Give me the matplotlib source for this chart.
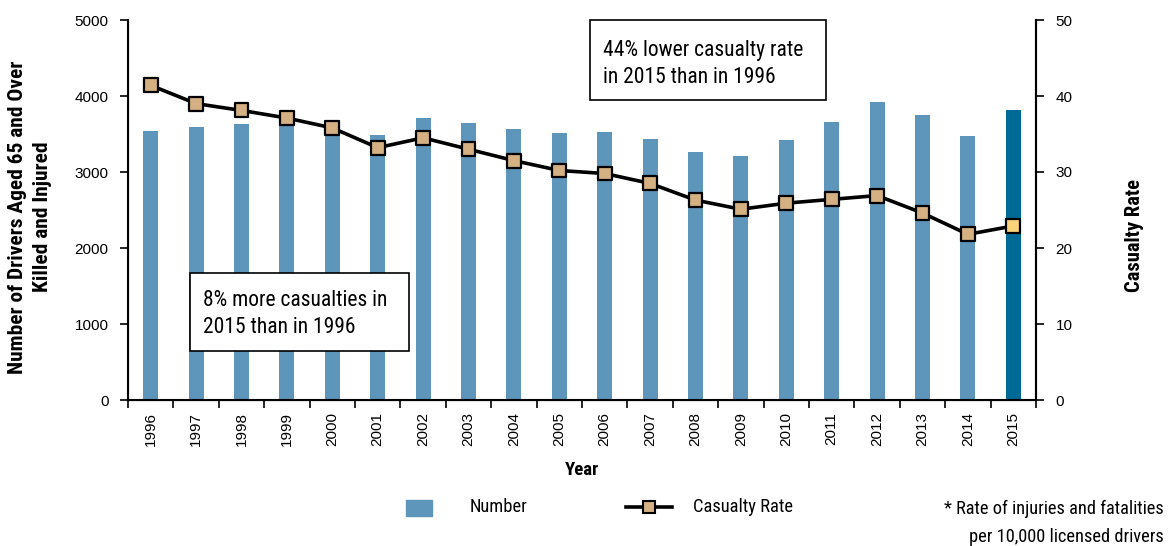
import matplotlib
matplotlib.use("Agg")
import matplotlib.pyplot as plt
from matplotlib.lines import Line2D
from matplotlib.patches import Rectangle
import numpy as np

years = [str(y) for y in range(1996, 2016)]
number = [3540, 3592, 3632, 3700, 3684, 3487, 3711, 3645, 3566, 3513,
          3526, 3434, 3263, 3211, 3421, 3658, 3921, 3750, 3474, 3816]
rate = [41.4, 39.0, 38.1, 37.1, 35.8, 33.2, 34.5, 33.0, 31.5, 30.2,
        29.8, 28.5, 26.3, 25.1, 25.9, 26.4, 26.9, 24.6, 21.8, 22.9]

BAR = "#5e95bb"
BAR_HI = "#006a96"
MK = "#d4b083"
MK_HI = "#f9d27a"

plt.rcParams['font.family'] = ['Liberation Sans', 'DejaVu Sans']
cond = ['Roboto Condensed', 'PT Sans Narrow', 'Liberation Sans', 'DejaVu Sans']

W, H = 1169, 546
def fx(px): return px / W
def fy(py): return 1 - py / H

fig = plt.figure(figsize=(W/100, H/100), dpi=100)
ax = fig.add_axes([fx(128), fy(400), (1036-128)/W, 380/H])
x = np.arange(len(years))
colors = [BAR]*(len(years)-1) + [BAR_HI]
ax.bar(x, number, width=0.33, color=colors, zorder=2)
ax.set_xlim(-0.5, len(years)-0.5)
ax.set_ylim(0, 5000)
ax.set_yticks([0, 1000, 2000, 3000, 4000, 5000])
ax.set_xticks(x)
ax.set_xticklabels(years, rotation=90, fontsize=11)
ax.set_xticks(np.arange(-0.5, len(years)), minor=True)
ax.tick_params(axis='x', which='major', length=0, pad=9)
ax.tick_params(axis='x', which='minor', length=6, width=1.2, direction='out')
ax.tick_params(axis='y', length=6, width=1.2, labelsize=11, pad=8)
ax.spines['top'].set_visible(False)
for s in ['left', 'right', 'bottom']:
    ax.spines[s].set_linewidth(1.5)

ax2 = ax.twinx()
ax2.set_ylim(0, 50)
ax2.set_yticks([0, 10, 20, 30, 40, 50])
ax2.tick_params(axis='y', length=6, width=1.2, labelsize=11, pad=8)
ax2.spines['top'].set_visible(False)
ax2.spines['right'].set_linewidth(1.5)
ax2.plot(x, rate, color='black', lw=2.6, zorder=3)
mcols = [MK]*(len(years)-1) + [MK_HI]
ax2.scatter(x, rate, marker='s', s=100, c=mcols, edgecolors='black', linewidths=1.6, zorder=4)

fig.text(fx(30), fy(217), "Number of Drivers Aged 65 and Over\nKilled and Injured",
         rotation=90, ha='center', va='center', fontsize=15.4, fontweight='bold',
         family=cond, linespacing=1.38)
fig.text(fx(1134), fy(235), "Casualty Rate", rotation=90, ha='center', va='center',
         fontsize=14.8, fontweight='bold', family=cond)
fig.text(fx(582), fy(470), "Year", ha='center', va='center', fontsize=13.5,
         fontweight='bold', family=cond)

# annotation boxes
fig.add_artist(Rectangle((fx(590), fy(100)), (826-590)/W, 80/H, transform=fig.transFigure,
                         fc='white', ec='black', lw=1.2, zorder=5))
fig.text(fx(603), fy(56), "44% lower casualty rate", ha='left', va='baseline',
         fontsize=15.5, family=cond, zorder=6)
fig.text(fx(603), fy(83), "in 2015 than in 1996", ha='left', va='baseline',
         fontsize=15.5, family=cond, zorder=6)
fig.add_artist(Rectangle((fx(190), fy(351)), (409-190)/W, 78/H, transform=fig.transFigure,
                         fc='white', ec='black', lw=1.2, zorder=5))
fig.text(fx(203), fy(306), "8% more casualties in", ha='left', va='baseline',
         fontsize=15.5, family=cond, zorder=6)
fig.text(fx(203), fy(333), "2015 than in 1996", ha='left', va='baseline',
         fontsize=15.5, family=cond, zorder=6)

# legend
fig.add_artist(Rectangle((fx(406), fy(516)), 26/W, 16/H, transform=fig.transFigure,
                         color=BAR))
fig.text(fx(470), fy(507), "Number", ha='left', va='center', fontsize=13.3, family=cond)
fig.add_artist(Line2D([fx(626), fx(672)], [fy(507), fy(507)],
                      transform=fig.transFigure, color='black', lw=2.6))
fig.add_artist(Line2D([fx(649)], [fy(507)], transform=fig.transFigure,
                      marker='s', markersize=8, markerfacecolor=MK,
                      markeredgecolor='black', markeredgewidth=1.5))
fig.text(fx(693), fy(507), "Casualty Rate", ha='left', va='center', fontsize=13.3, family=cond)

fig.text(fx(1164), fy(509), "* Rate of injuries and fatalities", ha='right',
         va='center', fontsize=13.2, family=cond)
fig.text(fx(1164), fy(537), "per 10,000 licensed drivers", ha='right',
         va='center', fontsize=13.2, family=cond)

fig.savefig("out.png", dpi=100)
